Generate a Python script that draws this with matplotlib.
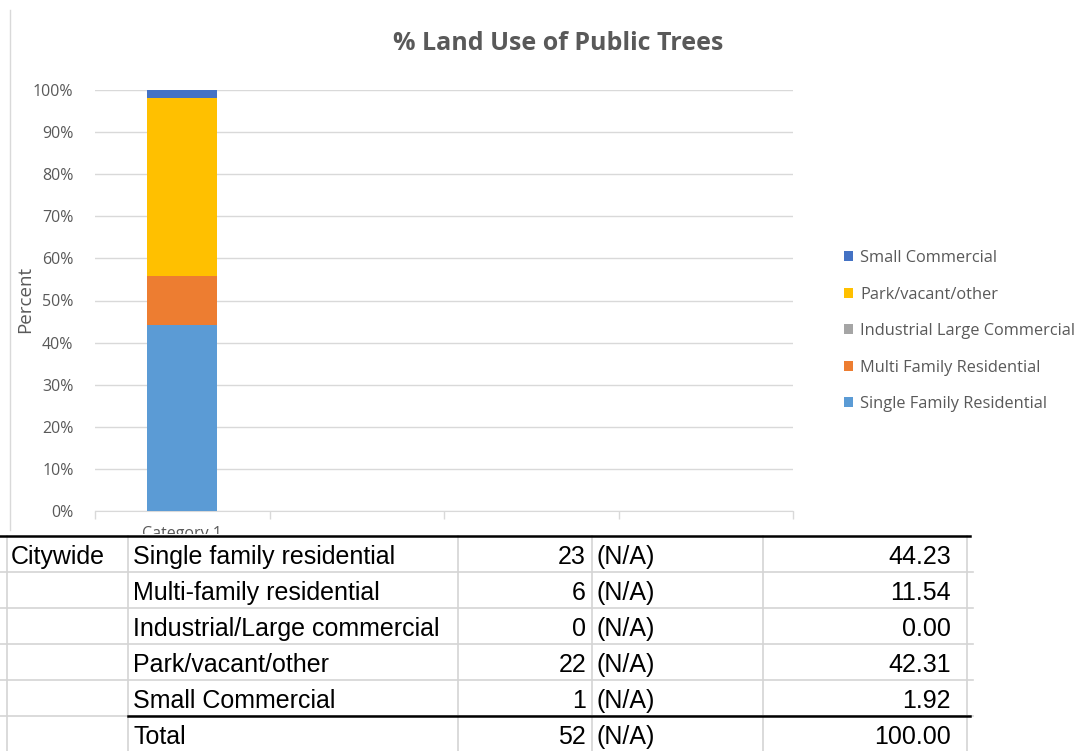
import matplotlib
matplotlib.use("Agg")
import matplotlib.pyplot as plt
import numpy as np

# ---- data ----
series_names = ["Single Family Residential", "Multi Family Residential",
                "Industrial Large Commercial", "Park/vacant/other", "Small Commercial"]
series_values = [44.23, 11.54, 0.00, 42.31, 1.92]
series_colors = ["#5B9BD5", "#ED7D31", "#A5A5A5", "#FFC000", "#4472C4"]
categories = ["Category 1", "", "", ""]
yticks = [0, 10, 20, 30, 40, 50, 60, 70, 80, 90, 100]

table_region = "Citywide"
table_labels = ["Single family residential", "Multi-family residential",
                "Industrial/Large commercial", "Park/vacant/other", "Small Commercial", "Total"]
table_counts = [23, 6, 0, 22, 1, 52]
table_na = ["(N/A)"] * 6
table_pct = [44.23, 11.54, 0.00, 42.31, 1.92, 100.00]

W, H = 1081, 751
fig = plt.figure(figsize=(W / 100, H / 100), dpi=100)
fig.patch.set_facecolor("white")

def fx(px):
    return px / W

def fy(py):
    return 1 - py / H

chart_font = ["Open Sans", "DejaVu Sans"]
table_font = ["Liberation Sans", "DejaVu Sans"]
gray_txt = "#595959"

# ---- chart ----
ax = fig.add_axes([fx(95), fy(511), fx(793) - fx(95), fy(90) - fy(511)])
ax.set_xlim(0, len(categories))
ax.set_ylim(0, 100)
bottom = 0
x = np.arange(len(categories)) + 0.5
for name, val, col in zip(series_names, series_values, series_colors):
    ax.bar(x[:1], [val], width=0.4, bottom=bottom, color=col, label=name,
           edgecolor="none", zorder=3)
    bottom += val

ax.set_yticks(yticks)
ax.set_yticklabels([f"{t}%" for t in yticks], fontsize=11.5, color=gray_txt,
                   family=chart_font)
ax.tick_params(axis="y", length=0, pad=15.5)
ax.grid(axis="y", color="#D9D9D9", linewidth=1.0, zorder=0)
ax.set_xticks(x)
ax.set_xticklabels(categories, fontsize=11.5, color=gray_txt, family=chart_font)
ax.set_xticks(np.arange(len(categories) + 1), minor=True)
ax.tick_params(axis="x", which="major", length=0, pad=11)
ax.tick_params(axis="x", which="minor", length=6, color="#D9D9D9", width=1)
for s in ["top", "right", "left"]:
    ax.spines[s].set_visible(False)
ax.spines["bottom"].set_color("#D9D9D9")

fig.text(fx(25), fy(299), "Percent", rotation=90, ha="center", va="center",
         fontsize=13.5, color=gray_txt, family=chart_font)

fig.text(fx(558), fy(44), "% Land Use of Public Trees", ha="center", va="center",
         fontsize=18, fontweight="bold", color=gray_txt, family=chart_font)

handles, labels = ax.get_legend_handles_labels()
leg = fig.legend(handles[::-1], labels[::-1], loc="upper left",
                 bbox_to_anchor=(fx(831), fy(237)), frameon=False,
                 prop={"family": chart_font, "size": 11.8},
                 handlelength=0.55, handleheight=0.55, handletextpad=0.45,
                 labelspacing=1.25, labelcolor=gray_txt, borderpad=0.3)

# chart area left border
fig.add_artist(plt.Line2D([fx(10), fx(10)], [fy(10), fy(530)], color="#D9D9D9", lw=1))

# ---- table ----
tax = fig.add_axes([0, 0, 1, fy(534)], zorder=5)
tax.set_xlim(0, W)
tax.set_ylim(H, 534)
tax.axis("off")
tax.add_patch(plt.Rectangle((0, 534), W, H - 534, color="white", zorder=0))

row_h = 36
top = 536
cols = [7, 128, 458, 592, 763, 967]
grid_c = "#D4D4D4"
for i in range(1, 6):
    yy = top + i * row_h
    tax.plot([0, 973], [yy, yy], color=grid_c, lw=1.2, zorder=1)
for cx in cols:
    tax.plot([cx, cx], [top, H], color=grid_c, lw=1.2, zorder=1)
tax.plot([0, 970], [top, top], color="black", lw=1.8, zorder=2)
tax.plot([cols[1], 970], [top + 5 * row_h, top + 5 * row_h], color="black", lw=1.8, zorder=2)

fs = 18
for i, (lab, cnt, na, pct) in enumerate(zip(table_labels, table_counts, table_na, table_pct)):
    yc = top + i * row_h + row_h / 2 + 3
    if i == 0:
        tax.text(11, yc, table_region, ha="left", va="center", fontsize=fs,
                 family=table_font, color="black")
    tax.text(133, yc, lab, ha="left", va="center", fontsize=fs, family=table_font, color="black")
    tax.text(586, yc, f"{cnt}", ha="right", va="center", fontsize=fs, family=table_font, color="black")
    tax.text(596, yc, na, ha="left", va="center", fontsize=fs, family=table_font, color="black")
    tax.text(951, yc, f"{pct:.2f}", ha="right", va="center", fontsize=fs, family=table_font, color="black")

fig.savefig("out.png", dpi=100)
